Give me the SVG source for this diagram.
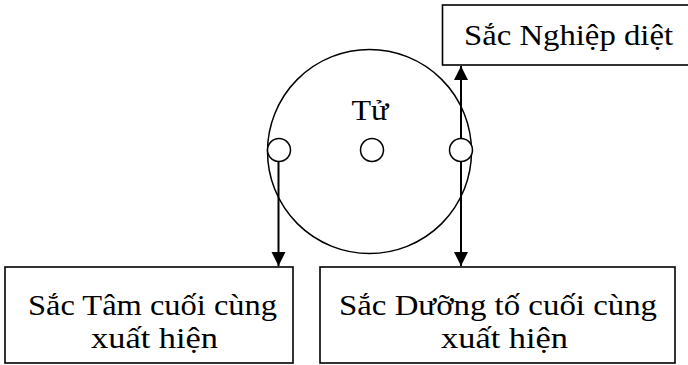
<svg xmlns="http://www.w3.org/2000/svg" width="688" height="365" viewBox="0 0 688 365">
<style>
.box{fill:#fff;stroke:#000;stroke-width:1.6}
.circ{fill:#fff;stroke:#000;stroke-width:1.5}
.big{fill:none;stroke:#000;stroke-width:1.5}
.con{fill:none;stroke:#000;stroke-width:2}
text{font-family:"Liberation Serif","DejaVu Serif",serif;font-size:30px;fill:#000;text-anchor:middle}
</style>
<defs>
<marker id="ah" markerUnits="userSpaceOnUse" markerWidth="16" markerHeight="16" viewBox="0 0 16 16" refX="15" refY="8" orient="auto">
<path d="M1,1 L15,8 L1,15 Z" fill="#000"/>
</marker>
</defs>
<g id="node-tu">
<circle class="big" cx="369.5" cy="151.5" r="102"/>
<text x="370" y="120" textLength="37" lengthAdjust="spacingAndGlyphs">Tử</text>
</g>
<g id="connectors">
<line class="con" x1="278.5" y1="160" x2="278.5" y2="266" marker-end="url(#ah)"/>
<line class="con" x1="461" y1="140" x2="461" y2="66" marker-end="url(#ah)"/>
<line class="con" x1="461" y1="160" x2="461" y2="266" marker-end="url(#ah)"/>
</g>
<g id="node-left-dot"><circle class="circ" cx="279" cy="150" r="11.5"/></g>
<g id="node-center-dot"><circle class="circ" cx="372" cy="150" r="11.5"/></g>
<g id="node-right-dot"><circle class="circ" cx="461" cy="150" r="11.5"/></g>
<g id="node-nghiep">
<rect class="box" x="442.5" y="5" width="260" height="60"/>
<text x="568.5" y="45" textLength="209" lengthAdjust="spacingAndGlyphs">Sắc Nghiệp diệt</text>
</g>
<g id="node-tam">
<rect class="box" x="5" y="267" width="288" height="96"/>
<text x="152.5" y="315" textLength="249" lengthAdjust="spacingAndGlyphs">Sắc Tâm cuối cùng</text>
<text x="154.5" y="348" textLength="127" lengthAdjust="spacingAndGlyphs">xuất hiện</text>
</g>
<g id="node-duong">
<rect class="box" x="320" y="267" width="355" height="96"/>
<text x="498" y="315" textLength="318" lengthAdjust="spacingAndGlyphs">Sắc Dưỡng tố cuối cùng</text>
<text x="504.5" y="348" textLength="127" lengthAdjust="spacingAndGlyphs">xuất hiện</text>
</g>
</svg>
